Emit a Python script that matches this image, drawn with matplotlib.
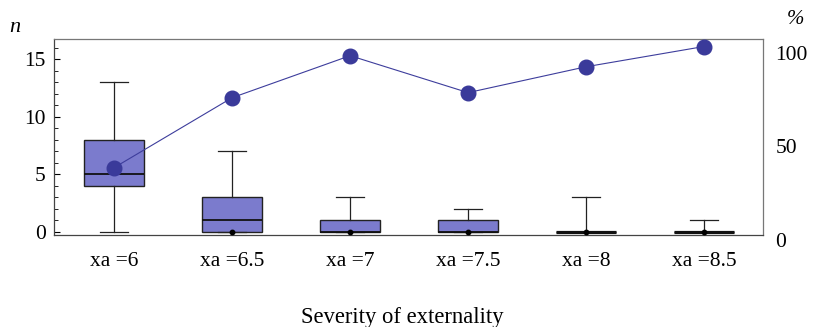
import numpy as np
import matplotlib
matplotlib.use("Agg")
import matplotlib.pyplot as plt
import matplotlib.transforms as mtransforms
from matplotlib.ticker import MultipleLocator

# datos
categorias = ["xa =6", "xa =6.5", "xa =7", "xa =7.5", "xa =8", "xa =8.5"]
q1 = [4, 0, 0, 0, 0, 0]
mediana = [5, 1, 0, 0, 0, 0]
q3 = [8, 3, 1, 1, 0, 0]
bigote_inf = [0, 0, 0, 0, 0, 0]
bigote_sup = [13, 7, 3, 2, 3, 1]
puntos_cero = [None, 0, 0, 0, 0, 0]   # puntito negro en la base
porcentaje = [35.4, 72.7, 95.1, 75.4, 89.2, 100.0]

plt.rcParams['font.family'] = ['Liberation Serif', 'DejaVu Serif']
plt.rcParams['font.size'] = 15.5

color_caja = '#7b7bcd'
color_linea = '#3d3d9c'

fig = plt.figure(figsize=(8.15, 3.27), dpi=100)
ax = fig.add_axes([54/815, 1 - 235/327, (763-54)/815, (235-39)/327])

pos = np.arange(1, len(categorias) + 1)
stats = []
for i in range(len(categorias)):
    stats.append(dict(q1=q1[i], med=mediana[i], q3=q3[i],
                      whislo=bigote_inf[i], whishi=bigote_sup[i], fliers=[]))

cajas = ax.bxp(stats, positions=pos, widths=0.51, capwidths=0.235, patch_artist=True,
               showfliers=False,
               boxprops=dict(facecolor=color_caja, edgecolor='#222222', linewidth=1.0),
               medianprops=dict(color='#111111', linewidth=1.3),
               whiskerprops=dict(color='#222222', linewidth=0.9),
               capprops=dict(color='#222222', linewidth=0.9))

# cajas aplastadas (q1 == q3) se ven como una linea gruesa
for i, med in enumerate(cajas['medians']):
    if q1[i] == q3[i]:
        med.set_linewidth(2.3)

xs = [p for p, v in zip(pos, puntos_cero) if v is not None]
ys = [v for v in puntos_cero if v is not None]
ax.plot(xs, ys, 'o', color='black', ms=3.2, zorder=5)

ax.set_xlim(0.49, 6.5)
ax.set_ylim(-0.28, 16.75)
ax.set_xticks(pos, categorias)
ax.tick_params(axis='x', length=0, pad=12)
ax.yaxis.set_major_locator(MultipleLocator(5))
ax.yaxis.set_minor_locator(MultipleLocator(1))
ax.tick_params(axis='y', which='major', direction='in', length=4.5, width=0.8, pad=6)
ax.tick_params(axis='y', which='minor', direction='in', length=2.8, width=0.6)
ax.set_xlabel("Severity of externality", labelpad=26, fontsize=16.3,
              x=(402 - 54) / 709)

for lado in ['left', 'bottom']:
    ax.spines[lado].set_color('#444444')
    ax.spines[lado].set_linewidth(0.9)
for lado in ['top', 'right']:
    ax.spines[lado].set_color('#777777')
    ax.spines[lado].set_linewidth(0.9)

# eje derecho con porcentaje
ax2 = ax.twinx()
ax2.plot(pos, porcentaje, '-o', color=color_linea, lw=0.8, ms=10.5,
         markerfacecolor='#3a3a9a', markeredgecolor='#3a3a9a', zorder=6)
ax2.set_ylim(-0.53, 104)
ax2.set_yticks([0, 50, 100])
ax2.tick_params(axis='y', length=0, pad=9)
for s in ax2.spines.values():
    s.set_visible(False)
desplaza = mtransforms.ScaledTranslation(0, -6/100, fig.dpi_scale_trans)
for lab in ax2.get_yticklabels():
    lab.set_transform(lab.get_transform() + desplaza)

fig.text(15/815, 1 - 27/327, "n", style='italic', ha='center', va='center', fontsize=16)
fig.text(795/815, 1 - 20/327, "%", style='italic', ha='center', va='center', fontsize=15)

fig.savefig("out.png", dpi=100)
